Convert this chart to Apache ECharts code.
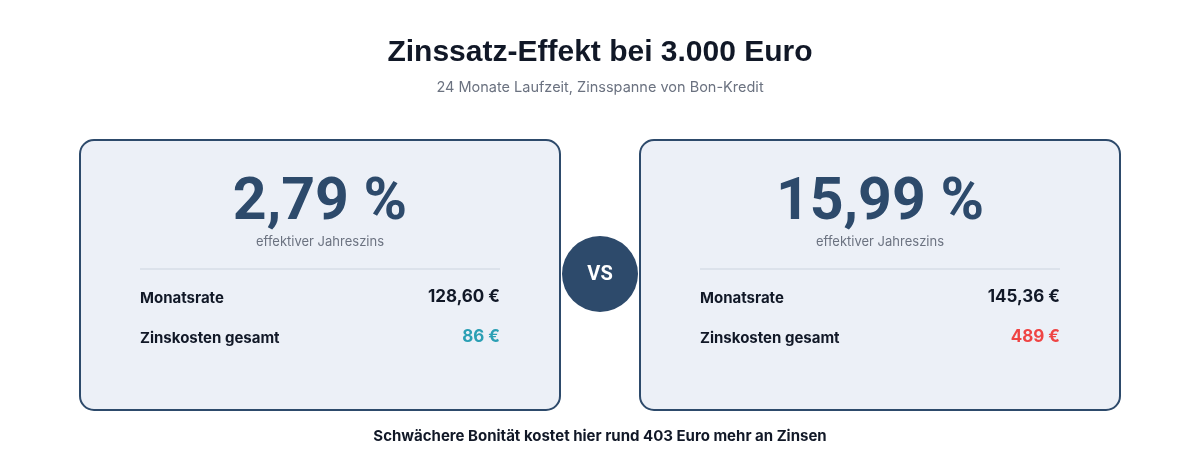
<!DOCTYPE html>
<head>
    <meta charset="utf-8">
    <title>Zinssatz-Effekt</title>
    <script src="https://cdn.jsdelivr.net/npm/echarts@6/dist/echarts.min.js"></script>
    <style>html,body{margin:0;padding:0;background:#fff;}</style>
</head>
<body>
    <div id="main" style="width:1200px;height:460px"></div>
    <script type="text/javascript">
    // Daten
    var rates = ['2,79 %', '15,99 %'];
    var rateLabel = 'effektiver Jahreszins';
    var rowLabels = ['Monatsrate', 'Zinskosten gesamt'];
    var monthly = ['128,60 €', '145,36 €'];
    var interest = ['86 €', '489 €'];
    var interestColors = ['#2b9fb4', '#ef4444'];
    var footer = 'Schwächere Bonität kostet hier rund 403 Euro mehr an Zinsen';

    var navy = '#2d4a6b';
    var cardLeft = [80, 640];
    var cardW = 480, cardTop = 140, cardH = 270;

    var elements = [];
    cardLeft.forEach(function (x, i) {
        var cx = x + cardW / 2;
        elements.push({
            type: 'rect',
            shape: { x: x, y: cardTop, width: cardW, height: cardH, r: 14 },
            style: { fill: '#ecf0f7', stroke: navy, lineWidth: 2 }
        });
        elements.push({
            type: 'text', x: cx, y: 204,
            style: { text: rates[i], fill: navy, font: 'bold 59px Roboto, sans-serif',
                     textAlign: 'center', textVerticalAlign: 'middle' }
        });
        elements.push({
            type: 'text', x: cx, y: 242,
            style: { text: rateLabel, fill: '#6b7280', font: '13px Inter, sans-serif',
                     textAlign: 'center', textVerticalAlign: 'middle' }
        });
        elements.push({
            type: 'line',
            shape: { x1: x + 60, y1: 269, x2: x + cardW - 60, y2: 269 },
            style: { stroke: '#dce2eb', lineWidth: 2 }
        });
        [monthly[i], interest[i]].forEach(function (v, r) {
            var y = 298 + r * 40;
            elements.push({
                type: 'text', x: x + 60, y: y,
                style: { text: rowLabels[r], fill: '#111827', font: 'bold 15px Inter, sans-serif',
                         textAlign: 'left', textVerticalAlign: 'middle' }
            });
            elements.push({
                type: 'text', x: x + cardW - 60, y: y - 1,
                style: { text: v, fill: r === 0 ? '#111827' : interestColors[i],
                         font: 'bold 17px Inter, sans-serif', textAlign: 'right', textVerticalAlign: 'middle' }
            });
        });
    });
    elements.push({
        type: 'circle', shape: { cx: 600, cy: 274, r: 38 },
        style: { fill: navy }
    });
    elements.push({
        type: 'text', x: 600, y: 275,
        style: { text: 'VS', fill: '#fff', font: 'bold 20px Roboto, sans-serif',
                 textAlign: 'center', textVerticalAlign: 'middle' }
    });
    elements.push({
        type: 'text', x: 600, y: 436,
        style: { text: footer, fill: '#111827', font: 'bold 15px Inter, sans-serif',
                 textAlign: 'center', textVerticalAlign: 'middle' }
    });

    var myChart = echarts.init(document.getElementById('main'));
    myChart.setOption({
        backgroundColor: '#ffffff',
        title: {
            text: 'Zinssatz-Effekt bei 3.000 Euro',
            subtext: '24 Monate Laufzeit, Zinsspanne von Bon-Kredit',
            left: 'center',
            top: 33,
            itemGap: 12,
            textStyle: { fontFamily: '"Liberation Sans", Arial, sans-serif', fontWeight: 'bold', fontSize: 30, color: '#111827' },
            subtextStyle: { fontFamily: 'Inter, sans-serif', fontSize: 14.5, color: '#6b7280' }
        },
        graphic: { elements: elements }
    });
    </script>
</body>
